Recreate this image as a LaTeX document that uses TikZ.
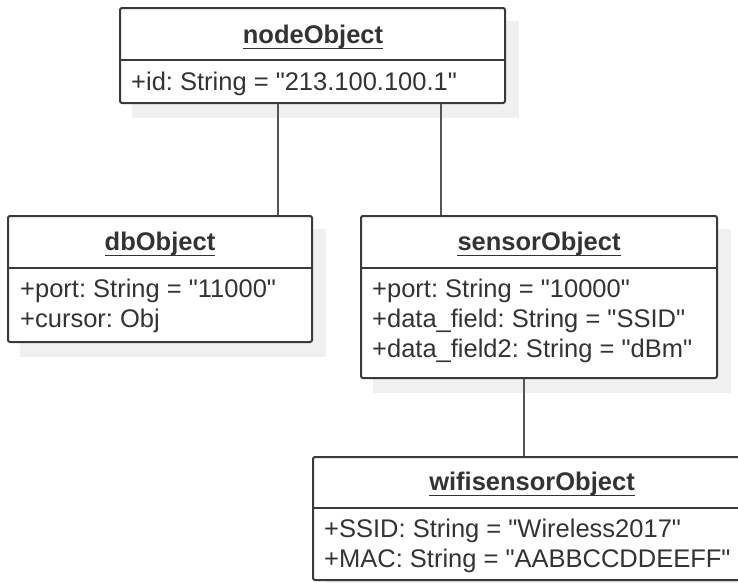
\documentclass[tikz,border=0pt]{standalone}
\usepackage{fontspec}
\setmainfont{Liberation Sans}[Ligatures=TeXOff]
\usetikzlibrary{backgrounds}
\definecolor{edgecol}{HTML}{3A3A3A}
\definecolor{txtcol}{HTML}{333333}
\definecolor{shadecol}{HTML}{F0F0F0}
\definecolor{linkcol}{HTML}{555555}
\newcommand{\qt}{\symbol{34}}
\tikzset{
  objbox/.style={draw=edgecol, line width=2pt, rounded corners=2pt, fill=white, inner sep=0pt},
  divider/.style={draw=edgecol, line width=2pt},
  titletext/.style={anchor=base, inner sep=0pt, text=txtcol, font=\fontsize{25.5}{30}\selectfont\frenchspacing\bfseries},
  attrtext/.style={anchor=base west, inner sep=0pt, text=txtcol, font=\fontsize{25.5}{30}\selectfont\frenchspacing},
  uline/.style={draw=txtcol, line width=1.4pt},
  link/.style={draw=linkcol, line width=2.2pt},
  shadow/.style={fill=shadecol, draw=none}
}
\begin{document}
\begin{tikzpicture}[x=1pt, y=-1pt]
\useasboundingbox (0,0) rectangle (738,582);
% boxes
\node[objbox, minimum width=385pt, minimum height=95pt] (n) at (312.5,55.5) {};
\node[objbox, minimum width=304pt, minimum height=126pt] (db) at (160,279) {};
\node[objbox, minimum width=356pt, minimum height=162pt] (s) at (539,297) {};
\node[objbox, minimum width=432pt, minimum height=123pt] (w) at (529,518.5) {};
% shadows
\begin{scope}[on background layer]
  \foreach \b in {n,db,s,w}
    \fill[shadow] ([shift={(13,14)}]\b.south west) rectangle ([shift={(13,14)}]\b.north east);
\end{scope}
% dividers
\draw[divider] (n.west |- 0,60) -- (n.east |- 0,60);
\draw[divider] (db.west |- 0,268) -- (db.east |- 0,268);
\draw[divider] (s.west |- 0,268) -- (s.east |- 0,268);
\draw[divider] (w.west |- 0,508) -- (w.east |- 0,508);
% titles
\node[titletext] (nt) at (313,43) {nodeObject};
\node[titletext] (dbt) at (160,250) {dbObject};
\node[titletext] (st) at (539,250) {sensorObject};
\node[titletext] (wt) at (532,490) {wifisensorObject};
\foreach \t in {nt,dbt,st,wt}
  \draw[uline] ([yshift=-5.5pt]\t.base west) -- ([yshift=-5.5pt]\t.base east);
% attributes
\node[attrtext] (na1) at (131,90) {+id: String = \qt 213.100.100.1\qt};
\node[attrtext] (dba1) at (20,297) {+port: String = \qt 11000\qt};
\node[attrtext] (dba2) at (20,327) {+cursor: Obj};
\node[attrtext] (sa1) at (372,297) {+port: String = \qt 10000\qt};
\node[attrtext] (sa2) at (372,327) {+data\_field: String = \qt SSID\qt};
\node[attrtext] (sa3) at (372,357) {+data\_field2: String = \qt dBm\qt};
\node[attrtext] (wa1) at (324,537) {+SSID: String = \qt Wireless2017\qt};
\node[attrtext] (wa2) at (324,567) {+MAC: String = \qt AABBCCDDEEFF\qt};
% connectors
\coordinate (c1) at (278,0);
\coordinate (c2) at (441,0);
\coordinate (c3) at (524,0);
\draw[link] (n.south -| c1) -- (db.north -| c1);
\draw[link] (n.south -| c2) -- (s.north -| c2);
\draw[link] (s.south -| c3) -- (w.north -| c3);
\end{tikzpicture}
\end{document}
